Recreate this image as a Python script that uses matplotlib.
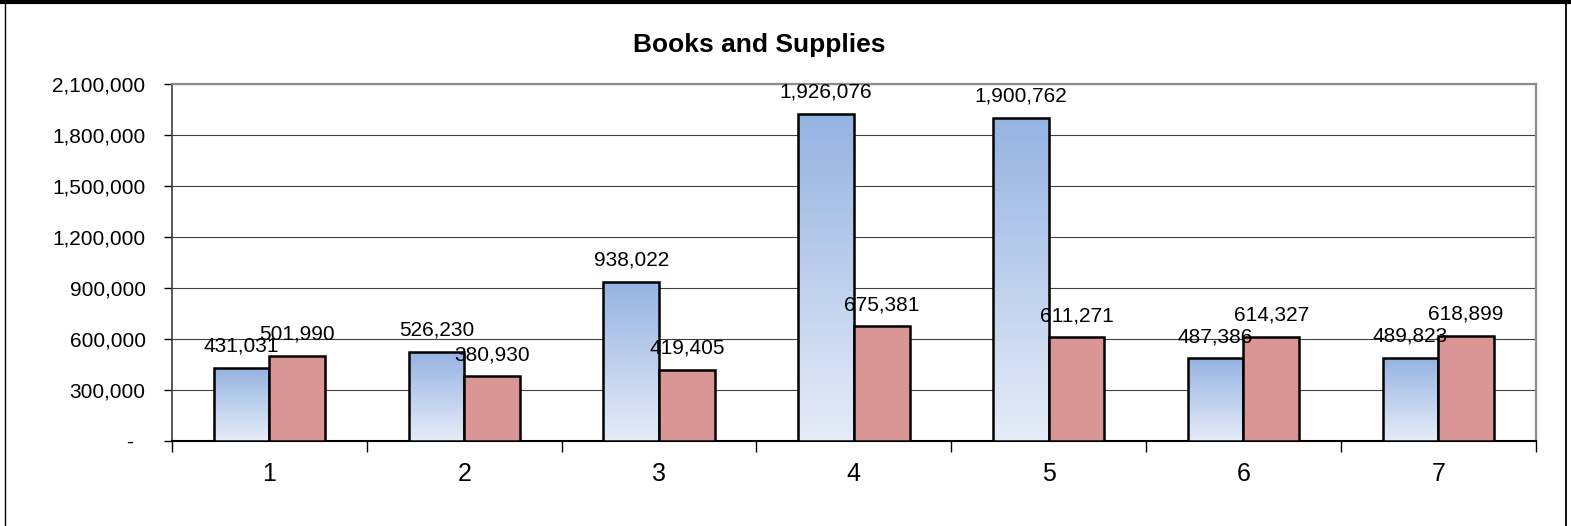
"""
Books and Supplies - grouped bar chart (two series per period)
"""
import numpy as np
import matplotlib.pyplot as plt
from matplotlib.colors import LinearSegmentedColormap
from matplotlib.lines import Line2D
from matplotlib.ticker import FuncFormatter, FixedLocator

plt.rcParams['font.family'] = ['Liberation Sans', 'DejaVu Sans']

# --- donnees ---
categories = ["1", "2", "3", "4", "5", "6", "7"]
series_a = [431031, 526230, 938022, 1926076, 1900762, 487386, 489823]
series_b = [501990, 380930, 419405, 675381, 611271, 614327, 618899]
y_ticks = list(range(0, 2100001, 300000))

BLUE_TOP, BLUE_BOTTOM = "#95B3E2", "#E6ECF8"
RED = "#D99694"
BAR_W = 1 / 3.5   # Excel gap width 150 %

fig = plt.figure(figsize=(15.71, 5.26), dpi=100)
ax = fig.add_axes([172 / 1571, 85 / 526, (1535.7 - 172) / 1571, 357 / 526])

x = np.arange(1, len(categories) + 1)
bars_a = ax.bar(x - BAR_W / 2, series_a, BAR_W, color="none", edgecolor="black",
                linewidth=1.8, zorder=4)
bars_b = ax.bar(x + BAR_W / 2, series_b, BAR_W, color=RED, edgecolor="black",
                linewidth=1.8, zorder=4)

# degrade vertical dans les barres bleues
cmap = LinearSegmentedColormap.from_list("blue_grad", [BLUE_BOTTOM, BLUE_TOP])
grad = np.linspace(0, 1, 256).reshape(-1, 1)
for b in bars_a:
    x0, w, h = b.get_x(), b.get_width(), b.get_height()
    im = ax.imshow(grad, extent=[x0, x0 + w, 0, h], origin="lower", aspect="auto",
                   cmap=cmap, zorder=3, interpolation="bilinear")
    im.set_clip_path(b)

# etiquettes de valeurs
for bars, vals in [(bars_a, series_a), (bars_b, series_b)]:
    for b, v in zip(bars, vals):
        ax.annotate(f"{v:,}", (b.get_x() + b.get_width() / 2, v), xytext=(0, 11.5),
                    textcoords="offset points", ha="center", va="baseline",
                    fontsize=15, zorder=6)

ax.set_xlim(0.5, len(categories) + 0.5)
ax.set_ylim(0, 2100000)

ax.yaxis.set_major_locator(FixedLocator(y_ticks))
ax.yaxis.set_major_formatter(FuncFormatter(lambda v, p: f"{int(v):,}" if v else "-  "))
ax.tick_params(axis="y", direction="out", length=6, width=1, labelsize=15, pad=13)

ax.xaxis.set_major_locator(FixedLocator(np.arange(0.5, len(categories) + 1)))
ax.xaxis.set_major_formatter(FuncFormatter(lambda v, p: ""))
ax.xaxis.set_minor_locator(FixedLocator(x))
ax.set_xticklabels(categories, minor=True)
ax.tick_params(axis="x", which="major", direction="out", length=8, width=1)
ax.tick_params(axis="x", which="minor", length=0, labelsize=18, pad=15)

ax.grid(axis="y", color="#404040", linewidth=0.8, zorder=0)
ax.set_axisbelow(True)
for side in ("top", "right"):
    ax.spines[side].set_color("#8C8C8C")
    ax.spines[side].set_linewidth(1.6)
ax.spines["left"].set_color("#404040")
ax.spines["left"].set_linewidth(1.2)
ax.spines["bottom"].set_color("black")
ax.spines["bottom"].set_linewidth(1.5)

fig.text(759 / 1571, (526 - 52) / 526, "Books and Supplies", ha="center",
         va="baseline", fontsize=19, fontweight="bold")

# cadre exterieur (haut epais, cotes fins)
fig.add_artist(Line2D([0, 1], [1 - 1.5 / 526] * 2, color="black", linewidth=3))
fig.add_artist(Line2D([5 / 1571] * 2, [0, 1], color="black", linewidth=1))
fig.add_artist(Line2D([1566 / 1571] * 2, [0, 1], color="black", linewidth=1.3))

fig.savefig("out.png", dpi=100)
